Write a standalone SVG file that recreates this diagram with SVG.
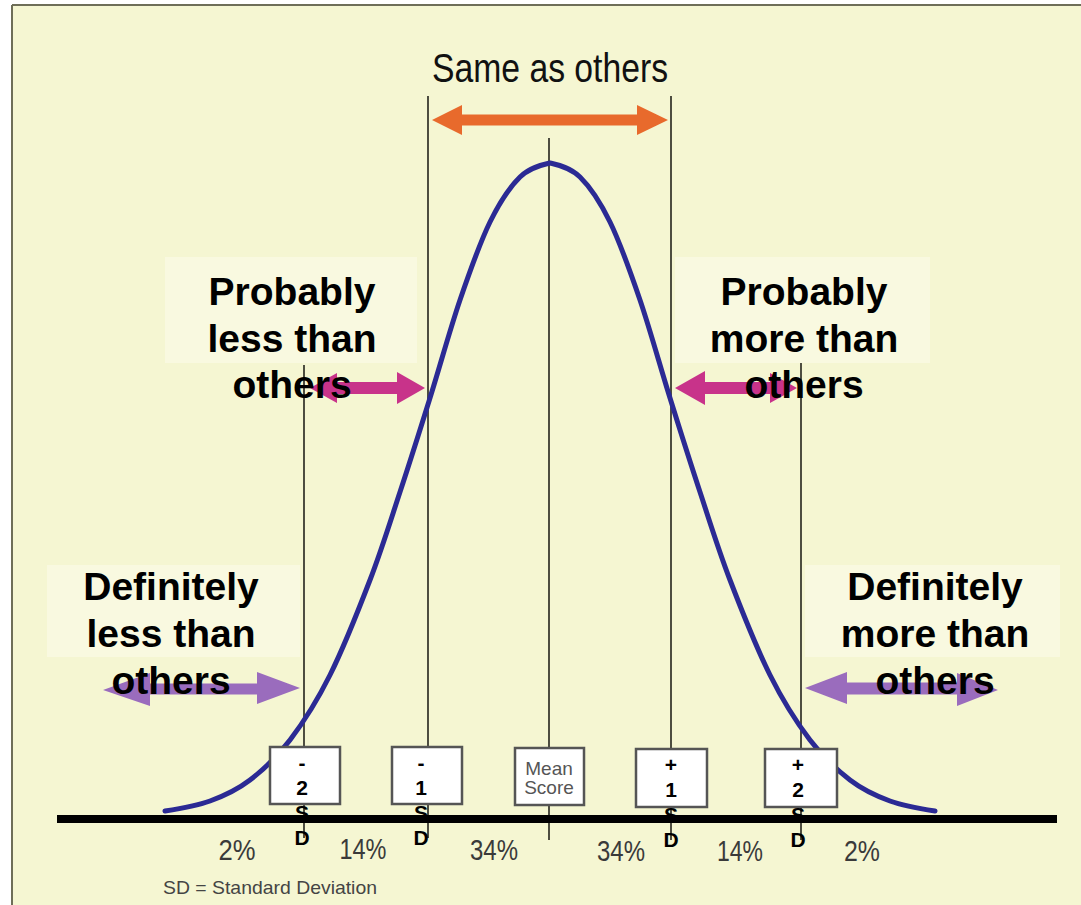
<svg xmlns="http://www.w3.org/2000/svg" width="1081" height="905" viewBox="0 0 1081 905">
<defs>
<style>
.bg{fill:#f5f6d2}
.panel{fill:#f9f9e0}
.vline{stroke:#3b3b30;stroke-width:1.8;fill:none}
.axis{stroke:#000;stroke-width:8;fill:none}
.curve{stroke:#2b2a94;stroke-width:5;fill:none;stroke-linecap:round}
.box{fill:#fff;stroke:#555;stroke-width:2.5}
.lbl{font-family:"Liberation Sans",Arial,sans-serif;font-weight:bold;font-size:39px;fill:#000;text-anchor:middle}
.sd{font-family:"Liberation Sans",Arial,sans-serif;font-weight:bold;font-size:21px;fill:#000;text-anchor:middle}
.mean{font-family:"Liberation Sans",Arial,sans-serif;font-size:19px;fill:#555;text-anchor:middle}
.pct{font-family:"Liberation Sans",Arial,sans-serif;font-size:30px;fill:#3a3a3a;text-anchor:middle}
.title{font-family:"Liberation Sans",Arial,sans-serif;font-size:40px;fill:#111;text-anchor:middle}
.note{font-family:"Liberation Sans",Arial,sans-serif;font-size:19px;fill:#444}
</style>
</defs>
<rect x="0" y="0" width="1081" height="905" fill="#fff"/>
<rect class="bg" x="12" y="5" width="1069" height="900"/>
<line x1="12" y1="5" x2="1081" y2="5" stroke="#6e6e58" stroke-width="2"/>
<line x1="12" y1="5" x2="12" y2="905" stroke="#6e6e58" stroke-width="2"/>

<g id="panels">
<rect class="panel" x="165" y="257" width="252" height="106"/>
<rect class="panel" x="675" y="257" width="255" height="106"/>
<rect class="panel" x="47" y="565" width="253" height="92"/>
<rect class="panel" x="805" y="565" width="255" height="92"/>
</g>

<g id="connectors">
<line class="vline" x1="304" y1="365" x2="304" y2="838"/>
<line class="vline" x1="428" y1="96" x2="428" y2="838"/>
<line class="vline" x1="549" y1="138" x2="549" y2="840"/>
<line class="vline" x1="671" y1="96" x2="671" y2="840"/>
<line class="vline" x1="801" y1="363" x2="801" y2="840"/>
<path fill="#e86a2c" d="M432,120 L462,105 L462,114.5 L637,114.5 L637,105 L668,120 L637,135 L637,125.5 L462,125.5 L462,135 Z"/>
<path fill="#c8338a" d="M310,388 L337,373 L337,382 L397,382 L397,372 L425,388 L397,404 L397,394 L337,394 L337,403 Z"/>
<path fill="#c8338a" d="M675,388 L705,371 L705,382 L770,382 L770,373 L797,388 L770,403 L770,394 L705,394 L705,405 Z"/>
<path fill="#9a6cbd" d="M103,690 L150,673 L150,683.5 L257,683.5 L257,672 L300,688 L257,704 L257,694.5 L150,694.5 L150,706 Z"/>
<path fill="#9a6cbd" d="M805,688 L847,672 L847,682.5 L957,682.5 L957,673 L998,690 L957,706 L957,694.5 L847,694.5 L847,704 Z"/>
</g>

<g id="curve">
<path class="curve" d="M165,811 C180,808.7 195.8,806.2 210,801 C224.2,795.8 236.7,790.2 250,780 C263.3,769.8 276.7,757.5 290,740 C303.3,722.5 316.7,701.7 330,675 C343.3,648.3 358.3,610.5 370,580 C381.7,549.5 390,522.3 400,492 C410,461.7 420,430 430,398 C440,366 450,329.3 460,300 C470,270.7 480,242.5 490,222 C500,201.5 510,186.8 520,177 C530,167.2 542.5,164.75 550,163 C557.5,164.75 570,167.2 580,177 C590,186.8 600,201.5 610,222 C620,242.5 630,270.7 640,300 C650,329.3 660,366 670,398 C680,430 690,461.7 700,492 C710,522.3 718.3,549.5 730,580 C741.7,610.5 756.7,648.3 770,675 C783.3,701.7 796.7,722.5 810,740 C823.3,757.5 836.7,769.8 850,780 C863.3,790.2 875.8,795.8 890,801 C904.2,806.2 920,808.7 935,811"/>
</g>

<g id="axis">
<line class="axis" x1="57" y1="819" x2="1057" y2="819"/>
</g>

<g id="title">
<text class="title" x="550" y="82" textLength="236" lengthAdjust="spacingAndGlyphs">Same as others</text>
</g>

<g id="label-probably-less">
<text class="lbl" x="292" y="305">Probably</text>
<text class="lbl" x="292" y="352">less than</text>
<text class="lbl" x="292" y="398">others</text>
</g>
<g id="label-probably-more">
<text class="lbl" x="804" y="305">Probably</text>
<text class="lbl" x="804" y="352">more than</text>
<text class="lbl" x="804" y="398">others</text>
</g>
<g id="label-definitely-less">
<text class="lbl" x="171" y="600">Definitely</text>
<text class="lbl" x="171" y="647">less than</text>
<text class="lbl" x="171" y="694">others</text>
</g>
<g id="label-definitely-more">
<text class="lbl" x="935" y="600">Definitely</text>
<text class="lbl" x="935" y="647">more than</text>
<text class="lbl" x="935" y="694">others</text>
</g>

<g id="box-minus2">
<rect class="box" x="270" y="747" width="70" height="57"/>
<text class="sd" x="302" y="770">-</text>
<text class="sd" x="302" y="795">2</text>
<text class="sd" x="302" y="820">S</text>
<text class="sd" x="302" y="845">D</text>
</g>
<g id="box-minus1">
<rect class="box" x="392" y="747" width="70" height="57"/>
<text class="sd" x="421" y="770">-</text>
<text class="sd" x="421" y="795">1</text>
<text class="sd" x="421" y="820">S</text>
<text class="sd" x="421" y="845">D</text>
</g>
<g id="box-mean">
<rect class="box" x="515" y="748" width="69" height="57"/>
<text class="mean" x="549" y="775">Mean</text>
<text class="mean" x="549" y="794">Score</text>
</g>
<g id="box-plus1">
<rect class="box" x="636" y="749" width="71" height="58"/>
<text class="sd" x="671" y="772">+</text>
<text class="sd" x="671" y="797">1</text>
<text class="sd" x="671" y="822">S</text>
<text class="sd" x="671" y="847">D</text>
</g>
<g id="box-plus2">
<rect class="box" x="765" y="749" width="72" height="58"/>
<text class="sd" x="798" y="772">+</text>
<text class="sd" x="798" y="797">2</text>
<text class="sd" x="798" y="822">S</text>
<text class="sd" x="798" y="847">D</text>
</g>

<g id="percentages">
<text class="pct" x="237" y="860" textLength="37" lengthAdjust="spacingAndGlyphs">2%</text>
<text class="pct" x="363" y="859" textLength="47" lengthAdjust="spacingAndGlyphs">14%</text>
<text class="pct" x="494" y="860" textLength="48" lengthAdjust="spacingAndGlyphs">34%</text>
<text class="pct" x="621" y="861" textLength="48" lengthAdjust="spacingAndGlyphs">34%</text>
<text class="pct" x="740" y="861" textLength="46" lengthAdjust="spacingAndGlyphs">14%</text>
<text class="pct" x="862" y="861" textLength="36" lengthAdjust="spacingAndGlyphs">2%</text>
</g>

<g id="footnote">
<text class="note" x="163" y="894" textLength="214" lengthAdjust="spacingAndGlyphs">SD = Standard Deviation</text>
</g>
</svg>
